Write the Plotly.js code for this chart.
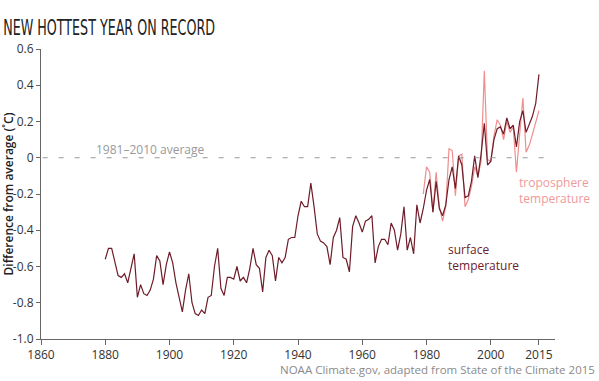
<!DOCTYPE html>
<html>
<head>
<meta charset="utf-8">
<script src="https://cdn.plot.ly/plotly-3.0.1.min.js"></script>
<style>html,body{margin:0;padding:0;background:#fff;}#chart{width:599px;height:381px;}</style>
</head>
<body>
<div id="chart"></div>
<script>
// Surface temperature, difference from 1981–2010 average (°C), 1880–2015
const surfaceYears = [];
for (let y = 1880; y <= 2015; y++) surfaceYears.push(y);
const surfaceValues = [
  -0.56,-0.50,-0.50,-0.58,-0.65,-0.66,-0.64,-0.69,-0.60,-0.53,
  -0.77,-0.70,-0.75,-0.76,-0.73,-0.67,-0.54,-0.57,-0.70,-0.59,
  -0.52,-0.58,-0.69,-0.78,-0.85,-0.73,-0.64,-0.80,-0.86,-0.87,
  -0.84,-0.86,-0.77,-0.76,-0.60,-0.50,-0.72,-0.76,-0.66,-0.66,
  -0.67,-0.60,-0.68,-0.66,-0.69,-0.61,-0.50,-0.59,-0.61,-0.74,
  -0.55,-0.51,-0.54,-0.68,-0.55,-0.58,-0.55,-0.45,-0.44,-0.44,
  -0.32,-0.24,-0.27,-0.27,-0.14,-0.27,-0.42,-0.46,-0.47,-0.49,
  -0.59,-0.44,-0.40,-0.33,-0.55,-0.56,-0.63,-0.38,-0.32,-0.36,
  -0.41,-0.35,-0.34,-0.32,-0.58,-0.49,-0.45,-0.45,-0.48,-0.36,
  -0.40,-0.51,-0.42,-0.27,-0.51,-0.44,-0.53,-0.26,-0.36,-0.28,
  -0.18,-0.12,-0.30,-0.13,-0.28,-0.32,-0.26,-0.12,-0.05,-0.17,
   0.01,-0.04,-0.22,-0.21,-0.13, 0.01,-0.11, 0.02, 0.19,-0.04,
  -0.02, 0.10, 0.16, 0.17, 0.13, 0.22, 0.16, 0.18, 0.06, 0.20,
   0.26, 0.14, 0.18, 0.23, 0.30, 0.46
];
// Troposphere temperature, 1979–2015
const tropoYears = [];
for (let y = 1979; y <= 2015; y++) tropoYears.push(y);
const tropoValues = [
  -0.20,-0.05,-0.08,-0.30,-0.08,-0.27,-0.35,-0.27, 0.05, 0.04,
  -0.21, 0.01, 0.02,-0.27,-0.23,-0.16,-0.05,-0.10,-0.02, 0.48,
  -0.01,-0.02, 0.12, 0.21, 0.18, 0.10, 0.20, 0.14, 0.17,-0.08,
   0.13, 0.33, 0.03, 0.07, 0.13, 0.19, 0.26
];
const xTickVals = [1860,1880,1900,1920,1940,1960,1980,2000,2015];
const xTickText = ['1860','1880','1900','1920','1940','1960','1980','2000','2015'];
const yTickVals = [0.6,0.4,0.2,0,-0.2,-0.4,-0.6,-0.8,-1.0];
const yTickText = ['0.6','0.4','0.2','0','-0.2','-0.4','-0.6','-0.8','-1.0'];

const SURF = '#6e1c2a', TROPO = '#ee8e8e';
const FONT = 'Open Sans, Noto Sans, DejaVu Sans, sans-serif';

const traces = [
  {x: tropoYears, y: tropoValues, type: 'scatter', mode: 'lines',
   line: {color: TROPO, width: 1.2}, hoverinfo: 'skip', name: 'troposphere'},
  {x: surfaceYears, y: surfaceValues, type: 'scatter', mode: 'lines',
   line: {color: SURF, width: 1.2}, hoverinfo: 'skip', name: 'surface'}
];

const layout = {
  width: 599, height: 381,
  margin: {l: 41, r: 44, t: 49, b: 42},
  paper_bgcolor: '#fff', plot_bgcolor: '#fff',
  showlegend: false,
  font: {family: FONT, size: 12, color: '#333'},
  title: {text: 'NEW HOTTEST YEAR ON RECORD', x: 0.002, xref: 'container', xanchor: 'left',
          y: 0.928, yref: 'container', yanchor: 'middle',
          font: {family: 'Liberation Sans Narrow, DejaVu Sans Condensed, sans-serif', size: 21, color: '#222'}},
  xaxis: {range: [1860, 2020], showgrid: false, zeroline: false, showline: true,
          linecolor: '#666', linewidth: 1, ticks: 'outside', ticklen: 5, tickcolor: '#666',
          tickvals: xTickVals, ticktext: xTickText, tickfont: {size: 12, color: '#333'}, fixedrange: true},
  yaxis: {range: [-1.0, 0.6], showgrid: false, zeroline: false, showline: true,
          linecolor: '#666', linewidth: 1, ticks: 'outside', ticklen: 4, tickcolor: '#666',
          tickvals: yTickVals, ticktext: yTickText, tickfont: {size: 12, color: '#333'},
          title: {text: 'Difference from average (\u02DAC)', standoff: 3,
                  font: {size: 12, color: '#222', weight: 600}}, fixedrange: true},
  shapes: [
    {type: 'line', xref: 'x', yref: 'y', x0: 1860.5, x1: 2018, y0: 0, y1: 0,
     line: {color: '#999', width: 1, dash: '5px,11px'}}
  ],
  annotations: [
    {text: '1981\u20132010 average', xref: 'x', yref: 'y', x: 1894, y: 0.045,
     xanchor: 'center', yanchor: 'middle', showarrow: false, font: {size: 12, color: '#999'}},
    {text: 'surface<br>temperature', xref: 'x', yref: 'y', x: 1986, y: -0.553,
     xanchor: 'left', yanchor: 'middle', align: 'left', showarrow: false, font: {size: 12, color: SURF}},
    {text: 'troposphere<br>temperature', xref: 'x', yref: 'y', x: 2008.2, y: -0.18,
     xanchor: 'left', yanchor: 'middle', align: 'left', showarrow: false, font: {size: 12, color: '#ef9a9a'}},
    {text: 'NOAA Climate.gov, adapted from State of the Climate 2015', xref: 'paper', yref: 'paper',
     x: 1.0817, y: -0.104, xanchor: 'right', yanchor: 'middle', showarrow: false,
     font: {size: 11.5, color: '#8a8a8a'}}
  ]
};

Plotly.newPlot('chart', traces, layout, {staticPlot: true, displayModeBar: false}).then(function () {
  const t = document.querySelector('.gtitle');
  if (t) {
    const bb = t.getBBox();
    const target = 212;
    const sx = target / bb.width;
    const x0 = bb.x;
    t.setAttribute('transform', 'translate(' + (x0 + 2 - x0 * sx) + ',0) scale(' + sx + ',1)');
  }
});
</script>
</body>
</html>
